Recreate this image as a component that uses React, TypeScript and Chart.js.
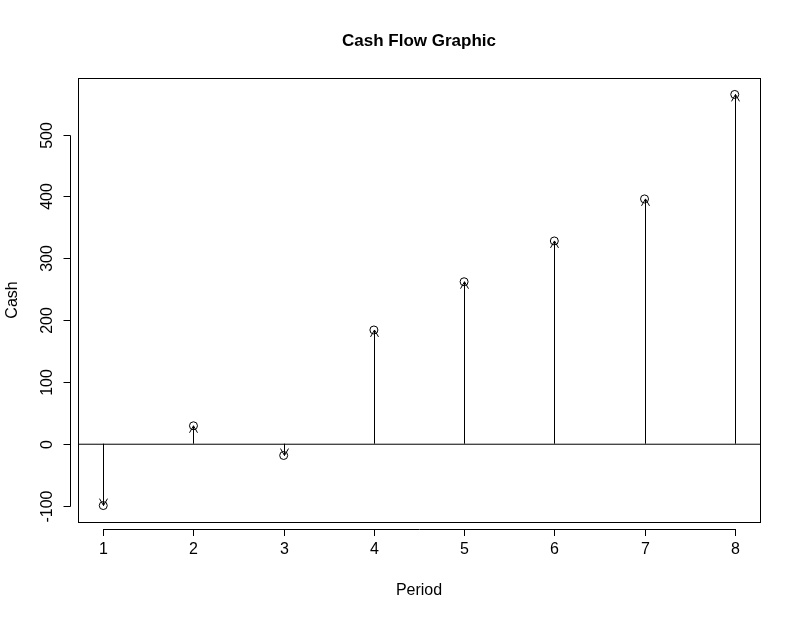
import { useEffect, useRef } from 'react';
import Chart from 'chart.js/auto';

const periods = [1, 2, 3, 4, 5, 6, 7, 8];
const cash = [-100, 29, -19, 184, 262, 328, 396, 565];
const yTicks = [-100, 0, 100, 200, 300, 400, 500];
const FONT = '"Liberation Sans", Arial, sans-serif';

// R-style frame, zero line, arrows and rotated y labels
const rPlot = {
  id: 'rPlot',
  afterDatasetsDraw(chart: any) {
    const { ctx, chartArea: a, scales } = chart;
    const x = scales.x;
    const y = scales.y;
    ctx.save();
    ctx.strokeStyle = '#000';
    ctx.fillStyle = '#000';
    ctx.lineWidth = 1;
    ctx.strokeRect(a.left + 0.5, a.top + 0.5, a.right - a.left, a.bottom - a.top);
    const y0 = y.getPixelForValue(0);
    ctx.beginPath();
    ctx.moveTo(a.left, y0 + 0.5);
    ctx.lineTo(a.right, y0 + 0.5);
    ctx.stroke();
    periods.forEach((p, i) => {
      const px = Math.round(x.getPixelForValue(p)) + 0.5;
      const py = y.getPixelForValue(cash[i]);
      ctx.beginPath();
      ctx.moveTo(px, y0);
      ctx.lineTo(px, py);
      const dir = py < y0 ? 1 : -1;
      const len = 8;
      const ang = Math.PI / 6;
      ctx.moveTo(px - len * Math.sin(ang), py + dir * len * Math.cos(ang));
      ctx.lineTo(px, py);
      ctx.lineTo(px + len * Math.sin(ang), py + dir * len * Math.cos(ang));
      ctx.stroke();
    });
    // y axis line, ticks and labels
    ctx.font = `16px ${FONT}`;
    ctx.textAlign = 'center';
    ctx.textBaseline = 'middle';
    const ax = a.left - 7.5;
    yTicks.forEach((t) => {
      const py = Math.round(y.getPixelForValue(t)) + 0.5;
      ctx.beginPath();
      ctx.moveTo(ax, py);
      ctx.lineTo(ax - 7, py);
      ctx.stroke();
      ctx.save();
      ctx.translate(a.left - 30, py);
      ctx.rotate(-Math.PI / 2);
      ctx.fillText(String(t), 0, 0);
      ctx.restore();
    });
    ctx.beginPath();
    ctx.moveTo(ax, Math.round(y.getPixelForValue(-100)) + 0.5);
    ctx.lineTo(ax, Math.round(y.getPixelForValue(500)) + 0.5);
    ctx.stroke();
    // x axis line, ticks and labels
    periods.forEach((p) => {
      const px = Math.round(x.getPixelForValue(p)) + 0.5;
      ctx.beginPath();
      ctx.moveTo(px, a.bottom + 7);
      ctx.lineTo(px, a.bottom + 14);
      ctx.stroke();
      ctx.fillText(String(p), px, a.bottom + 28);
    });
    ctx.beginPath();
    ctx.moveTo(Math.round(x.getPixelForValue(1)) + 0.5, a.bottom + 7.5);
    ctx.lineTo(Math.round(x.getPixelForValue(8)) + 0.5, a.bottom + 7.5);
    ctx.stroke();
    ctx.fillText('Period', (a.left + a.right) / 2, 591);
    ctx.save();
    ctx.translate(13, (a.top + a.bottom) / 2);
    ctx.rotate(-Math.PI / 2);
    ctx.fillText('Cash', 0, 0);
    ctx.restore();
    ctx.font = `bold 17px ${FONT}`;
    ctx.fillText('Cash Flow Graphic', (a.left + a.right) / 2, 41);
    ctx.restore();
  },
};

export default function App() {
  const ref = useRef<HTMLCanvasElement>(null);
  useEffect(() => {
    document.body.style.margin = '0';
    if (!ref.current) return;
    const chart = new Chart(ref.current, {
      type: 'scatter',
      data: {
        datasets: [
          {
            data: periods.map((p, i) => ({ x: p, y: cash[i] })),
            pointStyle: 'circle',
            pointRadius: 4,
            borderColor: '#000',
            backgroundColor: 'rgba(0,0,0,0)',
            borderWidth: 1,
          },
        ],
      },
      options: {
        responsive: false,
        animation: false,
        layout: { padding: { top: 78, right: 40, left: 0, bottom: 0 } },
        plugins: { legend: { display: false }, tooltip: { enabled: false } },
        scales: {
          x: {
            type: 'linear',
            min: 0.72,
            max: 8.28,
            ticks: { display: false },
            grid: { display: false },
            border: { display: false },
            afterFit: (s: any) => { s.height = 99; },
          },
          y: {
            type: 'linear',
            min: -126.6,
            max: 591.6,
            ticks: { display: false },
            grid: { display: false },
            border: { display: false },
            afterFit: (s: any) => { s.width = 78; },
          },
        },
      },
      plugins: [rPlot],
    });
    return () => chart.destroy();
  }, []);
  return <canvas ref={ref} width={800} height={621} style={{ display: 'block' }} />;
}
